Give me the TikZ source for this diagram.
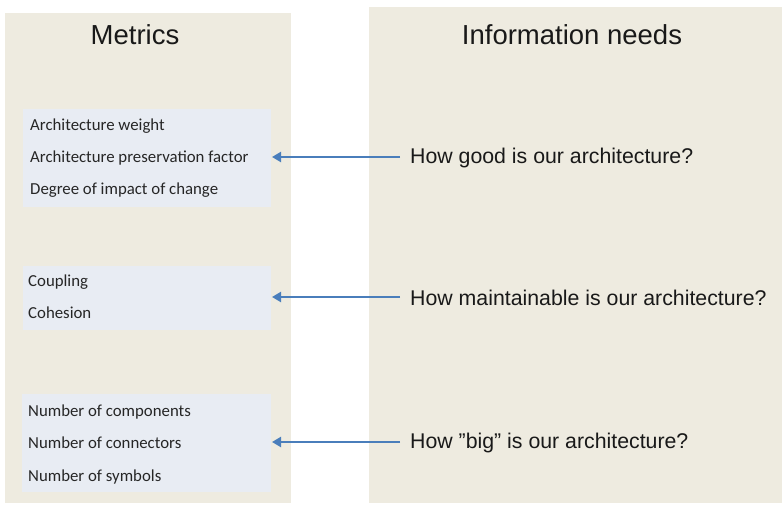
\documentclass[tikz,border=0pt]{standalone}
\usepackage{fontspec}
\setmainfont{Liberation Sans}
\newfontfamily\calibri{Carlito}
\usetikzlibrary{arrows.meta}
\definecolor{panelbg}{HTML}{EEEBE0}
\definecolor{boxbg}{HTML}{E8ECF3}
\definecolor{arrowblue}{HTML}{4A7EBB}
\begin{document}
\begin{tikzpicture}[x=1pt,y=-1pt,
  panel/.style={fill=panelbg,draw=none},
  listbox/.style={fill=boxbg,draw=none},
  heading/.style={font=\fontsize{27.5}{32}\selectfont,text=black!90,anchor=base},
  item/.style={font=\calibri\fontsize{16.8}{20}\selectfont,text=black!85,anchor=base west,inner sep=0pt},
  question/.style={font=\fontsize{21.3}{25}\selectfont,text=black!90,anchor=west,inner sep=0pt},
  link/.style={draw=arrowblue,line width=2.8pt,-{Triangle[length=9pt,width=10pt]}}]
\useasboundingbox (0,0) rectangle (782,505);
\fill[white] (0,0) rectangle (782,505);
% panels
\node[panel,anchor=north west,minimum width=286pt,minimum height=490pt,inner sep=0pt] (lp) at (5,13) {};
\node[panel,anchor=north west,minimum width=413pt,minimum height=496pt,inner sep=0pt] (rp) at (369,7) {};
\node[heading] (mt) at (135,45) {Metrics};
\node[heading] (it) at (572,45) {Information needs};
% list boxes
\node[listbox,anchor=north west,minimum width=248pt,minimum height=98pt,inner sep=0pt] (b1) at (23,109) {};
\node[listbox,anchor=north west,minimum width=248pt,minimum height=64pt,inner sep=0pt] (b2) at (23,266) {};
\node[listbox,anchor=north west,minimum width=249pt,minimum height=98pt,inner sep=0pt] (b3) at (22,394) {};
% items
\node[item] (i11) at (30,131) {Architecture weight};
\node[item] (i12) at (30,163) {Architecture preservation factor};
\node[item] (i13) at (30,195) {Degree of impact of change};
\node[item] (i21) at (28,287) {Coupling};
\node[item] (i22) at (28,318) {Cohesion};
\node[item] (i31) at (28,416) {Number of components};
\node[item] (i32) at (28,448) {Number of connectors};
\node[item] (i33) at (28,481) {Number of symbols};
% questions
\node[question] (q1) at (410,158) {How good is our architecture?};
\node[question] (q2) at (410,298) {How maintainable is our architecture?};
\node[question] (q3) at (410,443) {How ”big” is our architecture?};
% arrows
\path (q1.west) ++(-10,-1) coordinate (s1);
\path (q2.west) ++(-10,-1) coordinate (s2);
\path (q3.west) ++(-10,-1) coordinate (s3);
\coordinate (t1) at (272,157);
\coordinate (t2) at (272,297);
\coordinate (t3) at (272,442);
\draw[link] (s1) -- (t1);
\draw[link] (s2) -- (t2);
\draw[link] (s3) -- (t3);
\end{tikzpicture}
\end{document}
